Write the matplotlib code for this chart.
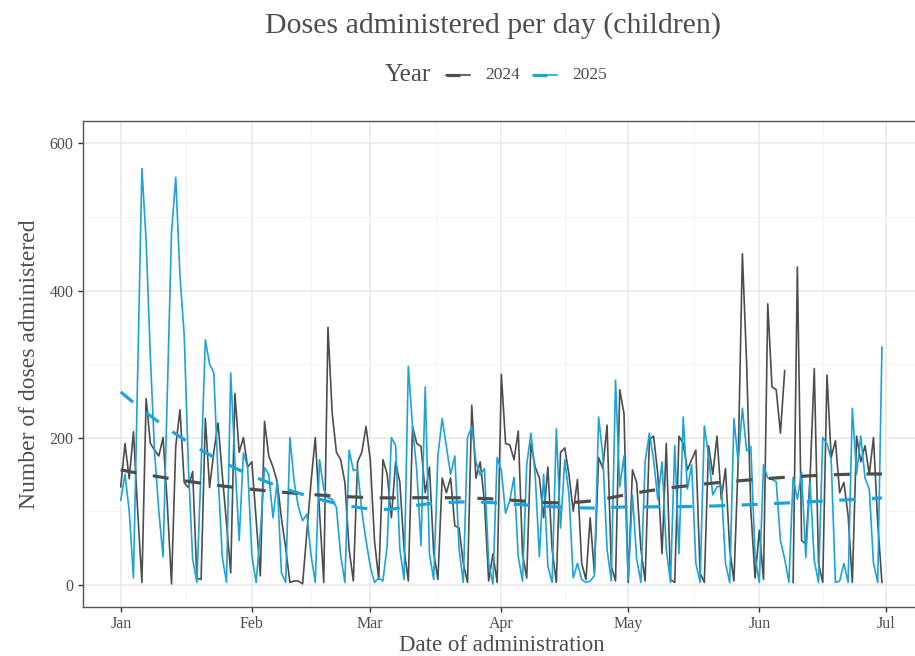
import numpy as np
import pandas as pd
import matplotlib
matplotlib.use("Agg")
import matplotlib.pyplot as plt
import matplotlib.dates as mdates
from matplotlib.lines import Line2D

# ---------------- data ----------------
dates = pd.date_range("2025-01-01", "2025-06-30", freq="D")

doses_2025 = [
    115, 150, 100, 9, None, 566, 468, 310, 180, 100,
    38, None, 478, 554, 420, 340, 160, 35, 3, 160,
    333, 300, 288, 150, 38, 3, 288, 167, 60, 179,
    160, 40, 3, 70, 159, 150, 91, 140, 16, 3,
    200, 140, 106, 87, 96, 40, 3, 170, 130, 118,
    116, 105, 40, 3, 183, 155, 157, 100, 60, 25,
    3, 9, 5, 53, 200, 189, 48, 7, 297, 215,
    155, 53, 269, 42, 7, 175, 226, 188, 150, 175,
    48, 3, 200, 215, 167, 149, 158, 29, 1, 173,
    155, 97, 115, 146, 38, 5, 163, 206, 150, 38,
    150, 25, 3, 212, 77, 170, 122, 9, 29, 7,
    3, 5, 12, 228, 175, 48, 5, 278, 133, 175,
    7, 122, 35, 3, 167, 206, 170, 116, 167, 48,
    3, 189, 42, 228, 130, 163, 29, 3, 216, 175,
    122, 133, 135, 29, 3, 226, 167, 240, 182, 188,
    38, 3, 163, 145, 143, 140, 60, 35, 3, 146,
    116, 153, 37, 139, 33, 3, 200, 192, 170, 3,
    5, 29, 3, 240, 150, 202, 145, 130, 29, 3,
    323,
]

doses_2024 = [
    133, 192, 144, 208, 100, 3, 253, 192, 183, 175,
    200, 110, 1, 188, 238, 139, 132, 154, 9, 7,
    226, 132, 180, 220, 150, 84, 16, 260, 180, 200,
    160, 167, 90, 12, 222, 175, 160, 140, 90, 50,
    3, 5, 5, 1, 70, 140, 200, 100, 3, 350,
    233, 180, 170, 139, 48, 5, 167, 180, 215, 170,
    60, 7, 170, 150, 91, 167, 139, 48, 5, 215,
    192, 188, 125, 160, 43, 7, 145, 125, 145, 80,
    77, 29, 3, 244, 145, 167, 113, 5, 42, 3,
    286, 192, 190, 170, 209, 42, 9, 192, 160, 145,
    91, 160, 48, 3, 180, 186, 149, 100, 143, 29,
    7, 91, 16, 173, 158, 217, 25, 5, 265, 233,
    3, 156, 139, 48, 5, 197, 202, 150, 42, 192,
    7, 3, 202, 192, 156, 170, 183, 16, 3, 189,
    150, 202, 116, 158, 48, 5, 167, 450, 301, 101,
    9, 74, 7, 382, 269, 265, 206, 291, None, 3,
    432, 60, 55, 145, 294, 29, 3, 285, 173, 196,
    125, 139, 94, 3, 202, 167, 189, 150, 200, 84,
    3,
]

years = ["2024", "2025"]
colors = {"2024": "#4d4d4d", "2025": "#1ba3dc"}

y_ticks = [0, 200, 400, 600]
month_ticks = pd.date_range("2025-01-01", "2025-07-01", freq="MS")
month_labels = [d.strftime("%b") for d in month_ticks]

# ---------------- helpers ----------------
def loess(x, y, span=0.75, n_out=80):
    x = np.asarray(x, float)
    y = np.asarray(y, float)
    n = len(x)
    q = int(np.floor(n * span))
    xs = np.linspace(x.min(), x.max(), n_out)
    out = np.empty(n_out)
    for i, x0 in enumerate(xs):
        d = np.abs(x - x0)
        h = np.sort(d)[q - 1]
        w = np.clip(1 - (d / h) ** 3, 0, None) ** 3
        X = np.vstack([np.ones(n), x - x0, (x - x0) ** 2]).T
        W = np.sqrt(w)
        beta, *_ = np.linalg.lstsq(X * W[:, None], y * W, rcond=None)
        out[i] = beta[0]
    return xs, out

text_col = "#4d4d4d"
serif = ["Liberation Serif", "DejaVu Serif"]
plt.rcParams["font.family"] = serif

fig = plt.figure(figsize=(9.15, 6.56), dpi=100)
ax = fig.add_axes([82.7 / 915, 49.3 / 656, (920 - 82.7) / 915, (606.7 - 120.7) / 656])

xnum = mdates.date2num(dates)

series = {"2024": doses_2024, "2025": doses_2025}
# 2024 has an NA (line breaks); 2025 has missing rows (line connects)
for yr in years:
    vals = np.array([np.nan if v is None else v for v in series[yr]], float)
    if yr == "2024":
        ax.plot(xnum, vals, color=colors[yr], lw=1.2, zorder=3)
    else:
        m = ~np.isnan(vals)
        ax.plot(xnum[m], vals[m], color=colors[yr], lw=1.2, zorder=4)

for yr in years:
    vals = np.array([np.nan if v is None else v for v in series[yr]], float)
    m = ~np.isnan(vals)
    xs, ys = loess(xnum[m], vals[m])
    ax.plot(xs, ys, color=colors[yr], lw=2.3, dashes=(5, 5.2), zorder=5,
            dash_capstyle="butt")

# axes limits
ax.set_xlim(xnum[0] - 9, xnum[-1] + 9)
ax.set_ylim(-30, 631)

# grid
ax.set_yticks(y_ticks)
ax.set_yticklabels([str(v) for v in y_ticks])
ax.set_yticks([100, 300, 500], minor=True)
mt = mdates.date2num(month_ticks)
ax.set_xticks(mt)
ax.set_xticklabels(month_labels)
ax.set_xticks((mt[:-1] + mt[1:]) / 2, minor=True)
ax.grid(which="major", color="#e8e8e8", lw=1.1, zorder=0)
ax.grid(which="minor", color="#f2f2f2", lw=0.6, zorder=0)
ax.set_axisbelow(True)

ax.tick_params(which="major", length=3.5, width=1.0, color="#333333",
               labelsize=11.5, labelcolor=text_col, pad=3)
ax.tick_params(which="minor", length=0)
for s in ["left", "bottom", "top"]:
    ax.spines[s].set_color("#555555")
    ax.spines[s].set_linewidth(1.0)
ax.spines["right"].set_visible(False)

ax.set_xlabel("Date of administration", fontsize=16.5, color=text_col, labelpad=2)
ax.set_ylabel("Number of doses administered", fontsize=17, color=text_col, labelpad=7)

fig.text(493 / 915, 1 - 26 / 656, "Doses administered per day (children)",
         ha="center", va="center", fontsize=21.5, color=text_col)

# legend (manual, horizontal)
ly = 1 - 75 / 656
fig.text(385 / 915, ly, "Year", ha="left", va="center", fontsize=18, color=text_col)
for x0, yr in [(446, "2024"), (533, "2025")]:
    fig.add_artist(Line2D([x0 / 915, (x0 + 24) / 915], [ly, ly], transform=fig.transFigure,
                          color=colors[yr], lw=1.2))
    fig.add_artist(Line2D([x0 / 915, (x0 + 14) / 915], [ly, ly], transform=fig.transFigure,
                          color=colors[yr], lw=2.3, solid_capstyle="butt"))
    fig.text((x0 + 39) / 915, ly, yr, ha="left", va="center", fontsize=12.5, color=text_col)

fig.savefig("out.png", dpi=100)
